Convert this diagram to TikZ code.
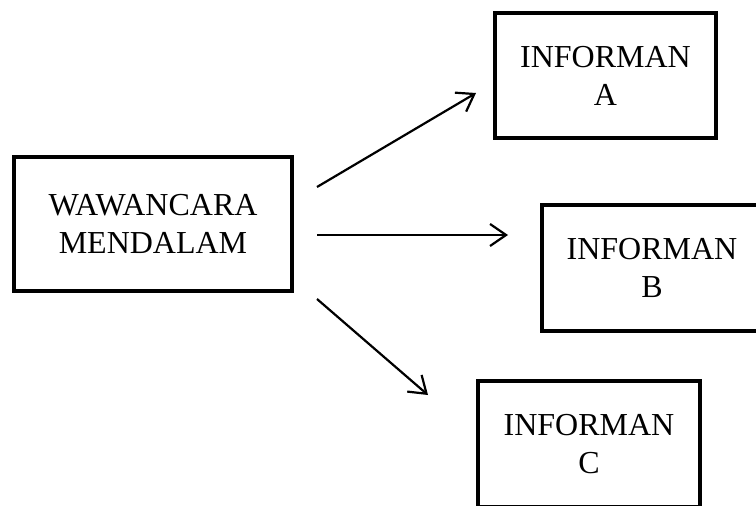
\documentclass[tikz,border=0pt]{standalone}
\usepackage{fontspec}
\setmainfont{Liberation Serif}
\usetikzlibrary{arrows.meta}
\begin{document}
\begin{tikzpicture}[x=1pt,y=-1pt,
  box/.style={draw, line width=4pt, rectangle, align=center, inner sep=0pt,
    font=\fontsize{32}{38}\selectfont},
  conn/.style={line width=2.2pt, -{Straight Barb[length=16pt,width=22pt,line width=2.2pt]}}]
\useasboundingbox (0,0) rectangle (756,506);
\clip (0,0) rectangle (756,506);
\node[box, minimum width=278pt, minimum height=134pt] (main) at (153,224) {WAWANCARA\\MENDALAM};
\node[box, minimum width=221pt, minimum height=125pt] (A) at (605.5,75.5) {INFORMAN\\A};
\node[box, minimum width=220pt, minimum height=126pt] (B) at (652,268) {INFORMAN\\B};
\node[box, minimum width=222pt, minimum height=126pt] (C) at (589,444) {INFORMAN\\C};
\coordinate (sA) at (317,187);
\coordinate (eA) at (476,93);
\coordinate (sB) at (317,235);
\coordinate (eB) at (508,235);
\coordinate (sC) at (317,299);
\coordinate (eC) at (428,395);
\draw[conn] (sA) -- (eA);
\draw[conn] (sB) -- (eB);
\draw[conn] (sC) -- (eC);
\end{tikzpicture}
\end{document}
